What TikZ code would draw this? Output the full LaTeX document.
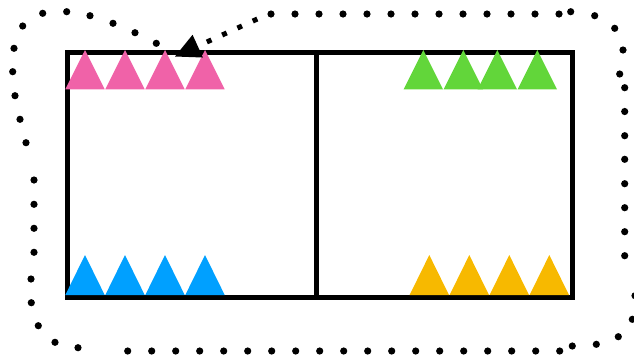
\documentclass[tikz,border=0pt]{standalone}
\usetikzlibrary{arrows.meta}
\definecolor{tpink}{RGB}{240,98,168}
\definecolor{tgreen}{RGB}{98,214,58}
\definecolor{tblue}{RGB}{0,160,255}
\definecolor{tyellow}{RGB}{247,185,0}
\begin{document}
\begin{tikzpicture}[x=1pt,y=-1pt,
  frame/.style={draw=black,line width=5pt},
  dot/.style={fill=black},
  lassoarrow/.style={draw=black,line width=5pt,dash pattern=on 5pt off 11.8pt,
    -{Triangle[length=25pt,width=25pt,line width=0pt]}}]
\useasboundingbox (0,0) rectangle (634,360);
% frame
\coordinate (tl) at (67.5,52.5);
\coordinate (br) at (572,297);
\coordinate (mt) at (316.5,52.5);
\coordinate (mb) at (316.5,297);
\draw[frame] (tl) rectangle (br);
\draw[frame] (mt) -- (mb);
% triangles
\foreach \x in {85,125,165,205}
  \fill[tpink] (\x-19.7,89.3) -- (\x,50) -- (\x+19.7,89.3) -- cycle;
\foreach \x in {423.3,463.3,497.3,537.3}
  \fill[tgreen] (\x-19.7,89.3) -- (\x,50) -- (\x+19.7,89.3) -- cycle;
\foreach \x in {85,125,165,205}
  \fill[tblue] (\x-19.7,295) -- (\x,255) -- (\x+19.7,295) -- cycle;
\foreach \x in {429.3,469.3,509.3,549.3}
  \fill[tyellow] (\x-19.7,295) -- (\x,255) -- (\x+19.7,295) -- cycle;
% dotted lasso
\foreach \p in {(156.3,43.3),(135,32.7),(113,23.3),(90,15.7),(66.7,11.7),(42.7,13.3),
  (22.7,26),(14,48.3),(12.7,71.7),(15,95.7),(20,119.3),(26,142.7),
  (34,180),(34,204.3),(34,228.3),(34,252.3),(31,279),(31.3,302.7),(38.3,325.7),(55,342.3),(78,347.7),
  (572.3,346),(596.3,344.3),(618.3,336.7),(632.3,319.3),(635,295.7),
  (624.7,255.7),(624.7,231.7),(624.7,207.7),(624.7,183.7),(624.7,159.3),(624.7,135.7),(624.7,111.5),(624.7,87.7),
  (619.7,74),(623,50),(614.7,28.3),(594.7,15.7),(570.7,11.7)}
  \fill[dot] \p circle (3.6);
\foreach \k in {0,...,18}
  \fill[dot] (127.7+24*\k,351) circle (3.6);
\foreach \k in {0,...,12}
  \fill[dot] (271+24*\k,14) circle (3.6);
% arrow
\coordinate (as) at (257.3,19);
\coordinate (at) at (175,56.5);
\draw[lassoarrow] (as) -- (at);
\end{tikzpicture}
\end{document}
